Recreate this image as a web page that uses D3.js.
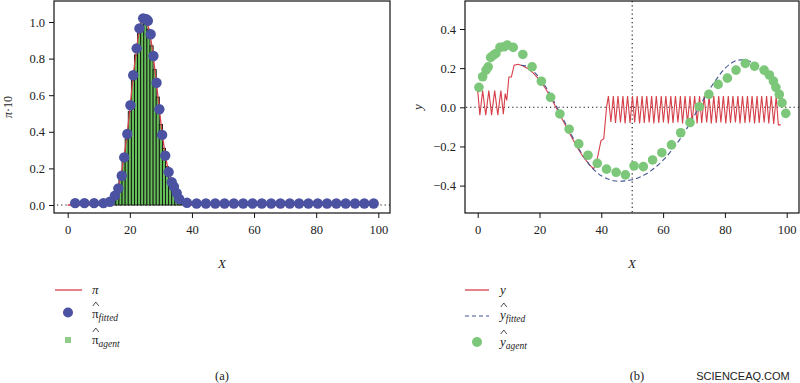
<!DOCTYPE html>
<html><head><meta charset="utf-8">
<script src="https://cdn.jsdelivr.net/npm/d3@7"></script>
<style>body{margin:0;background:#fff}svg{display:block}text{font-family:"Liberation Serif",serif;fill:#222}</style>
</head><body><svg id="c" width="800" height="383"></svg>
<script>
// ---------- Panel (a) data ----------
const piX = [0,10,11,12,13,14,15,16,17,18,19,20,21,22,23,24,25,26,27,28,29,30,31,32,33,34,35,36,37,38,39,40,100];
const piY = [0,0,0,0.005,0.012,0.025,0.05,0.085,0.15,0.25,0.37,0.52,0.69,0.83,0.95,1.01,1.02,0.97,0.88,0.75,0.6,0.45,0.32,0.22,0.15,0.1,0.065,0.035,0.018,0.01,0.005,0,0];
const agentX = [15,16,17,18,19,20,21,22,23,24,25,26,27,28,29,30,31,32,33,34,35,36,37];
const agentY = [0.045,0.08,0.14,0.24,0.36,0.51,0.68,0.82,0.94,1.0,1.01,0.96,0.87,0.74,0.59,0.44,0.31,0.21,0.14,0.095,0.06,0.03,0.015];
const fittedX = [2.4,5.4,8.5,11.5,13.6,15.2,16.3,17.4,18.2,19.2,20.2,21.1,22.2,23.1,24.3,25.3,25.8,26.7,27.6,28.6,29.5,30.4,31.4,32.5,33.5,34.2,35.1,35.9,38.4,41.5,44.5,47.5,50.5,53.5,56.5,59.5,62.5,65.5,68.5,71.5,74.5,77.5,80.5,83.5,86.5,89.5,92.5,95.5,98.5];
const fittedY = [0.01,0.01,0.01,0.01,0.018,0.051,0.091,0.16,0.26,0.388,0.545,0.709,0.856,0.965,1.02,1.015,1.007,0.933,0.814,0.668,0.523,0.383,0.27,0.18,0.125,0.1,0.065,0.033,0.012,0.008,0.008,0.008,0.008,0.008,0.008,0.008,0.008,0.008,0.008,0.008,0.008,0.008,0.008,0.008,0.008,0.008,0.008,0.008,0.008];
const xTicks = [0,20,40,60,80,100];
const yTicksA = [0,0.2,0.4,0.6,0.8,1.0];

// ---------- Panel (b) data ----------
const yX = [0,0.7,1.6,2.6,3.6,4.5,5.5,6.5,7.5,8.3,8.9,9.4,10.1,10.9,11.8,13.1,14.5,16,18,20,22,24,26,28,30,32,34,36,37.5,38.6,39.9,40.8,41.7,
  42.3,43.1,43.9,44.6,45.4,46.2,47.0,47.7,48.5,49.3,50.1,50.8,51.6,52.4,53.2,53.9,54.7,55.5,56.3,57.0,57.8,58.6,59.4,60.1,60.9,61.7,62.5,63.2,64.0,64.8,65.6,66.3,67.1,67.9,68.7,69.4,70.2,71.0,71.8,72.5,73.3,74.1,74.9,75.6,76.4,77.2,78.0,78.7,79.5,80.3,81.1,81.8,82.6,83.4,84.2,84.9,85.7,86.5,87.3,88.0,88.8,89.6,90.4,91.1,91.9,92.7,93.5,94.2,95.0,95.8,96.6,97.3,98.1,98.9,99.5];
const yY = [0.085,-0.04,0.085,-0.04,0.085,-0.04,0.085,-0.04,0.085,-0.035,0.07,0.035,0.155,0.155,0.215,0.22,0.212,0.2,0.175,0.14,0.095,0.04,-0.02,-0.08,-0.14,-0.2,-0.25,-0.29,-0.315,-0.27,-0.17,-0.16,0.0,
  0.057,-0.075,0.057,-0.08,0.058,-0.078,0.057,-0.082,0.057,-0.08,0.058,-0.078,0.057,-0.082,0.057,-0.08,0.058,-0.078,0.057,-0.082,0.057,-0.08,0.058,-0.078,0.057,-0.082,0.057,-0.08,0.058,-0.078,0.057,-0.082,0.057,-0.08,0.058,-0.078,0.057,-0.082,0.057,-0.08,0.058,-0.078,0.057,-0.082,0.057,-0.08,0.058,-0.078,0.057,-0.082,0.057,-0.08,0.058,-0.078,0.057,-0.082,0.057,-0.08,0.058,-0.078,0.057,-0.082,0.057,-0.08,0.058,-0.078,0.057,-0.082,0.057,-0.085,0.055,-0.09,-0.09];
const yfitX = [14,16,18,20,22,24,26,28,30,32,34,36,38,40,42,44,46,48,50,52,54,56,58,60,62,64,66,68,70,72,74,76,78,80,82,84,86,88,90,92,94,96,98,100];
const yfitY = [0.215,0.21,0.185,0.15,0.105,0.05,-0.01,-0.07,-0.13,-0.19,-0.245,-0.29,-0.325,-0.35,-0.365,-0.375,-0.378,-0.375,-0.37,-0.36,-0.345,-0.325,-0.3,-0.27,-0.235,-0.195,-0.15,-0.1,-0.045,0.01,0.065,0.115,0.16,0.198,0.225,0.24,0.243,0.235,0.215,0.185,0.145,0.095,0.035,-0.03];
const agX = [0.4,1.6,2.7,3.4,4.2,5.1,5.9,7.2,8.5,9.6,11.5,14.6,17.6,20.6,23.6,26.6,29.6,32.7,35.7,38.7,41.7,44.8,47.8,50.6,53.6,56.6,59.6,62.7,65.7,68.7,71.7,74.8,77.8,80.8,83.6,86.6,89.6,92.7,94.4,95.7,96.5,97.6,98.5,99.7];
const agY = [0.102,0.156,0.19,0.207,0.255,0.267,0.275,0.306,0.309,0.318,0.306,0.27,0.207,0.133,0.051,-0.034,-0.112,-0.187,-0.245,-0.286,-0.316,-0.332,-0.345,-0.299,-0.303,-0.269,-0.232,-0.192,-0.13,-0.078,0.003,0.066,0.117,0.149,0.19,0.224,0.21,0.19,0.165,0.134,0.102,0.066,0.023,-0.031];
const yTicksB = [-0.4,-0.2,0,0.2,0.4];

const RED = "#d6404a", BLUE = "#4c52a2", GREEN = "#66c05a", LGREEN = "#7cc77a", DASH = "#41558f";
const svg = d3.select("#c");

function panel(o) {
  const g = svg.append("g");
  g.append("rect").attr("x", o.box[0]).attr("y", o.box[1]).attr("width", o.box[2]-o.box[0]).attr("height", o.box[3]-o.box[1])
    .attr("fill", "none").attr("stroke", "#111").attr("stroke-width", 1.2);
  const xa = g.append("g").attr("transform", `translate(0,${o.box[3]})`)
    .call(d3.axisBottom(o.x).tickValues(xTicks).tickSize(5).tickPadding(7).tickFormat(d3.format("d")));
  xa.select(".domain").remove();
  const ya = g.append("g").attr("transform", `translate(${o.box[0]},0)`)
    .call(d3.axisLeft(o.y).tickValues(o.yTicks).tickSize(5).tickPadding(4).tickFormat(d3.format(".1f")));
  ya.select(".domain").remove();
  g.selectAll(".tick text").style("font-family", "Liberation Serif").style("font-size", "12.5px").attr("fill", "#222");
  g.selectAll(".tick line").attr("stroke", "#111");
  ya.selectAll(".tick text").text(d => d < 0 ? "\u2212" + d3.format(".1f")(-d) : d3.format(".1f")(d));
  return g;
}

// ---------- Panel (a) ----------
const xA = d3.scaleLinear().domain([0, 100]).range([67.7, 378.3]);
const yA = d3.scaleLinear().domain([0, 1]).range([205, 22]);
const gA = panel({box: [54, 1, 390, 213], x: xA, y: yA, yTicks: yTicksA});
gA.append("line").attr("x1", 57).attr("x2", 390).attr("y1", yA(0)).attr("y2", yA(0))
  .attr("stroke", "#111").attr("stroke-dasharray", "1.2,3").attr("stroke-width", 1.1);
const bw = xA(1) - xA(0);
gA.selectAll(".bar").data(agentX.map((x, i) => [x, agentY[i]])).join("rect")
  .attr("x", d => xA(d[0]) - bw/2).attr("width", bw)
  .attr("y", d => yA(d[1])).attr("height", d => yA(0) - yA(d[1]))
  .attr("fill", GREEN).attr("stroke", "#111").attr("stroke-width", 0.9);
gA.append("path").datum(piX.map((x, i) => [x, piY[i]]))
  .attr("d", d3.line().x(d => xA(d[0])).y(d => yA(d[1])).curve(d3.curveMonotoneX))
  .attr("fill", "none").attr("stroke", RED).attr("stroke-width", 1.3);
gA.selectAll(".pt").data(fittedX.map((x, i) => [x, fittedY[i]])).join("circle")
  .attr("cx", d => xA(d[0])).attr("cy", d => yA(d[1])).attr("r", 5.2).attr("fill", BLUE);

// ---------- Panel (b) ----------
const xB = d3.scaleLinear().domain([0, 100]).range([477.7, 786.7]);
const yB = d3.scaleLinear().domain([-0.4, 0.4]).range([185.6, 29]);
const gB = panel({box: [465, 1, 799, 213], x: xB, y: yB, yTicks: yTicksB});
gB.append("line").attr("x1", 466).attr("x2", 799).attr("y1", yB(0)).attr("y2", yB(0))
  .attr("stroke", "#111").attr("stroke-dasharray", "1.2,3").attr("stroke-width", 1.1);
gB.append("line").attr("x1", xB(50)).attr("x2", xB(50)).attr("y1", 1).attr("y2", 213)
  .attr("stroke", "#111").attr("stroke-dasharray", "1.2,3").attr("stroke-width", 1.1);
gB.append("path").datum(yX.map((x, i) => [x, yY[i]]))
  .attr("d", d3.line().x(d => xB(d[0])).y(d => yB(d[1])))
  .attr("fill", "none").attr("stroke", RED).attr("stroke-width", 1.1);
gB.append("path").datum(yfitX.map((x, i) => [x, yfitY[i]]))
  .attr("d", d3.line().x(d => xB(d[0])).y(d => yB(d[1])).curve(d3.curveMonotoneX))
  .attr("fill", "none").attr("stroke", DASH).attr("stroke-width", 1.1).attr("stroke-dasharray", "5,3");
gB.selectAll(".ag").data(agX.map((x, i) => [x, agY[i]])).join("circle")
  .attr("cx", d => xB(d[0])).attr("cy", d => yB(d[1])).attr("r", 4.8).attr("fill", LGREEN);

// ---------- Axis titles ----------
function txt(x, y, s, size, opts = {}) {
  const t = svg.append("text").attr("x", x).attr("y", y).attr("font-size", size).text(s);
  if (opts.italic) t.attr("font-style", "italic");
  if (opts.anchor) t.attr("text-anchor", opts.anchor);
  if (opts.rot) t.attr("transform", `rotate(-90,${x},${y})`);
  if (opts.fill) t.attr("fill", opts.fill);
  if (opts.family) t.style("font-family", opts.family);
  return t;
}
const yl = svg.append("text").attr("transform", "translate(12,107) rotate(-90)").attr("text-anchor", "middle").attr("font-size", 12);
yl.append("tspan").attr("font-style", "italic").text("π");
yl.append("tspan").text("·10");
txt(422, 107, "y", 13, {italic: true, anchor: "middle", rot: true});
txt(222, 268, "X", 13, {italic: true, anchor: "middle"});
txt(632, 268, "X", 13, {italic: true, anchor: "middle"});

// ---------- Legends ----------
function hatLabel(x, yBase, sym, sub) {
  // circumflex accent drawn as a small chevron above the symbol
  const cx = x + 3.8, top = yBase - 16;
  svg.append("path").attr("d", `M${cx-3},${top+4} L${cx},${top} L${cx+3},${top+4}`)
    .attr("fill", "none").attr("stroke", "#222").attr("stroke-width", 0.8);
  const t = svg.append("text").attr("x", x).attr("y", yBase).attr("font-size", 13);
  t.append("tspan").attr("font-style", sym === "y" ? "italic" : "normal").text(sym);
  t.append("tspan").attr("font-style", "italic").attr("font-size", 9.5).attr("dy", 3).text(sub);
}
// (a)
svg.append("line").attr("x1", 55).attr("x2", 82).attr("y1", 290).attr("y2", 290).attr("stroke", RED).attr("stroke-width", 1.3);
txt(92, 294, "π", 13, {italic: true});
svg.append("circle").attr("cx", 68).attr("cy", 312.5).attr("r", 5).attr("fill", BLUE);
hatLabel(92, 318, "π", "fitted");
svg.append("rect").attr("x", 65).attr("y", 337).attr("width", 6).attr("height", 6).attr("fill", "#8fcc89");
hatLabel(92, 344, "π", "agent");
// (b)
svg.append("line").attr("x1", 465).attr("x2", 489).attr("y1", 290).attr("y2", 290).attr("stroke", RED).attr("stroke-width", 1.3);
txt(500, 294, "y", 13, {italic: true});
svg.append("line").attr("x1", 465).attr("x2", 489).attr("y1", 316).attr("y2", 316).attr("stroke", DASH).attr("stroke-width", 1.2).attr("stroke-dasharray", "4,3");
hatLabel(500, 319, "y", "fitted");
svg.append("circle").attr("cx", 477).attr("cy", 342).attr("r", 5).attr("fill", LGREEN);
hatLabel(500, 346, "y", "agent");

txt(222, 380, "(a)", 12.5, {anchor: "middle"});
txt(637, 380, "(b)", 12.5, {anchor: "middle"});
txt(743, 380, "SCIENCEAQ.COM", 11, {anchor: "middle", fill: "#f2c6cb", family: "Liberation Sans"});
</script></body></html>
